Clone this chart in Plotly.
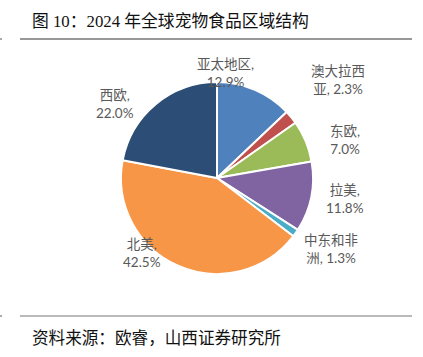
import plotly.graph_objects as go

W, H = 423, 357

regions = ["亚太地区", "澳大拉西亚", "东欧", "拉美", "中东和非洲", "北美", "西欧"]
shares = [12.9, 2.3, 7.0, 11.8, 1.3, 42.5, 22.0]
colors = ["#4F81BD", "#C0504D", "#9BBB59", "#8064A2", "#4BACC6", "#F79646", "#2C4D75"]
# label centre positions (pixels) for each slice
label_px = [(225, 73.5), (338, 80), (345, 140.5), (345, 198.5), (331, 249.5), (142, 252.5), (115, 104)]

title_text = "图 10：2024 年全球宠物食品区域结构"
source_text = "资料来源：欧睿，山西证券研究所"

# pie geometry in pixels
cx, cy, r = 217, 178, 96


def fmt(name, v):
    if len(name) > 4:
        return f"{name[:4]}<br>{name[4:]}, {v:.1f}%"
    return f"{name},<br>{v:.1f}%"


fig = go.Figure()
fig.add_trace(go.Pie(
    labels=regions,
    values=shares,
    sort=False,
    direction="clockwise",
    rotation=0,
    marker=dict(colors=colors, line=dict(color="white", width=2)),
    textinfo="none",
    hoverinfo="label+percent",
    showlegend=False,
    domain=dict(x=[(cx - r) / W, (cx + r) / W], y=[1 - (cy + r) / H, 1 - (cy - r) / H]),
))

label_font = dict(family="Lato, 'Noto Sans CJK SC', sans-serif", size=13.5, color="#595959")
for name, v, (px, py) in zip(regions, shares, label_px):
    fig.add_annotation(
        x=px / W, y=1 - py / H, xref="paper", yref="paper",
        text=fmt(name, v), showarrow=False, align="center",
        xanchor="center", yanchor="middle", font=label_font,
    )

fig.add_annotation(
    x=30 / W, y=1 - 21 / H, xref="paper", yref="paper", text=title_text,
    showarrow=False, xanchor="left", yanchor="middle",
    font=dict(family="'Liberation Serif', 'Noto Sans CJK SC', serif", size=16.8, color="#111111"),
)
fig.add_annotation(
    x=30 / W, y=1 - 337 / H, xref="paper", yref="paper", text=source_text,
    showarrow=False, xanchor="left", yanchor="middle",
    font=dict(family="'Noto Sans CJK SC', sans-serif", size=16.6, color="#111111"),
)

for y_px, col in [(39, "#333333"), (316, "#777777")]:
    fig.add_shape(type="line", xref="paper", yref="paper",
                  x0=20 / W, x1=412 / W, y0=1 - y_px / H, y1=1 - y_px / H,
                  line=dict(color=col, width=1.2))
    fig.add_shape(type="line", xref="paper", yref="paper",
                  x0=0, x1=2 / W, y0=1 - y_px / H, y1=1 - y_px / H,
                  line=dict(color="#555555", width=1))

fig.update_layout(
    width=W, height=H,
    margin=dict(l=0, r=0, t=0, b=0),
    paper_bgcolor="white", plot_bgcolor="white",
)

fig.write_html("out.html", config={"displayModeBar": False},
               post_script="document.body.style.margin='0';document.body.style.padding='0';")
